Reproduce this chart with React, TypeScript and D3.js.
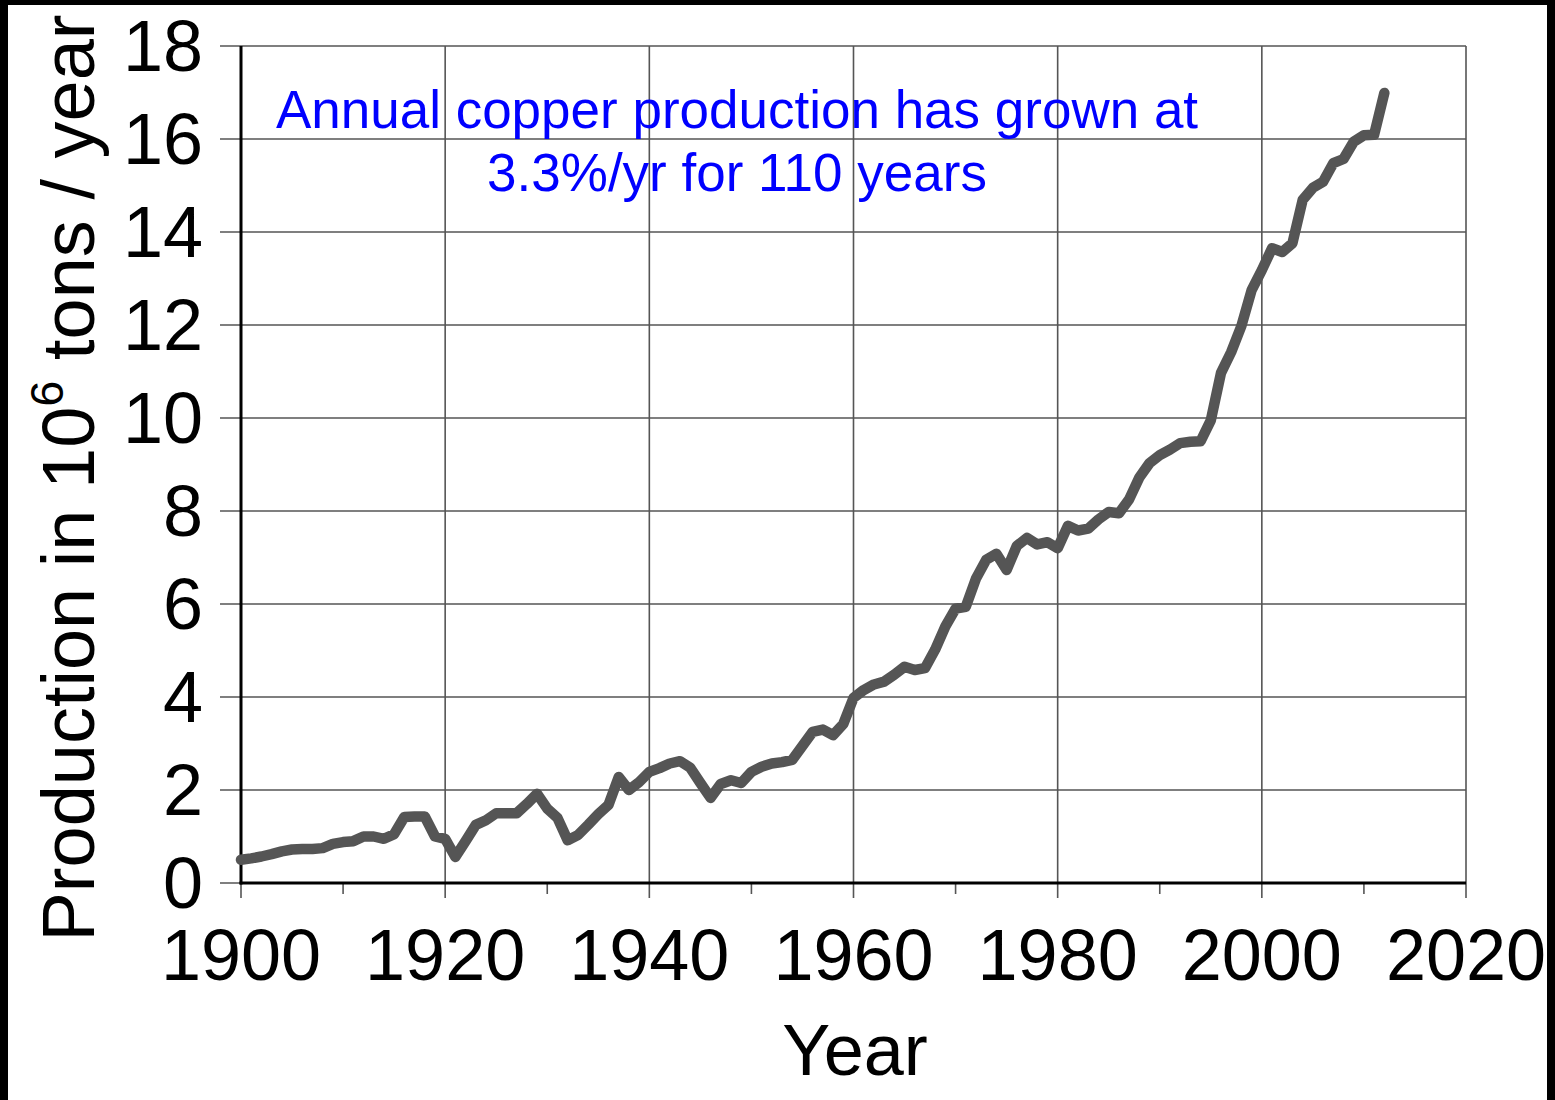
import React from "react";
import * as d3 from "d3";

const years: number[] = d3.range(1900, 2013);
const production: number[] = [
  0.50, 0.53, 0.57, 0.62, 0.68, 0.72, 0.73, 0.73, 0.75, 0.84,
  0.88, 0.90, 1.00, 1.00, 0.95, 1.05, 1.42, 1.43, 1.43, 1.00,
  0.95, 0.56, 0.90, 1.25, 1.35, 1.50, 1.50, 1.50, 1.70, 1.92,
  1.60, 1.40, 0.92, 1.03, 1.25, 1.48, 1.68, 2.28, 2.00, 2.17,
  2.39, 2.47, 2.57, 2.62, 2.48, 2.15, 1.83, 2.13, 2.21, 2.15,
  2.39, 2.50, 2.57, 2.60, 2.65, 2.95, 3.25, 3.30, 3.18, 3.42,
  3.98, 4.15, 4.27, 4.33, 4.48, 4.65, 4.58, 4.62, 5.02, 5.52,
  5.90, 5.94, 6.55, 6.95, 7.08, 6.73, 7.25, 7.42, 7.28, 7.33,
  7.20, 7.68, 7.58, 7.62, 7.82, 7.98, 7.95, 8.25, 8.72, 9.03,
  9.20, 9.32, 9.46, 9.49, 9.50, 9.95, 10.97, 11.42, 11.98, 12.75,
  13.18, 13.65, 13.57, 13.76, 14.69, 14.95, 15.08, 15.48, 15.57, 15.94,
  16.08, 16.09, 16.99,
];
const xTicks: number[] = [1900, 1920, 1940, 1960, 1980, 2000, 2020];
const xMinorTicks: number[] = [1910, 1930, 1950, 1970, 1990, 2010];
const yTicks: number[] = [0, 2, 4, 6, 8, 10, 12, 14, 16, 18];
const annotationLines: string[] = [
  "Annual copper production has grown at",
  "3.3%/yr for 110 years",
];

const W = 1555;
const H = 1100;
const FONT = "'Liberation Sans', Arial, Helvetica, sans-serif";

export default function App() {
  const x = d3.scaleLinear().domain([1900, 2020]).range([241, 1466]);
  const y = d3.scaleLinear().domain([0, 18]).range([883, 46]);
  const data = years.map((yr, i) => ({ yr, v: production[i] }));
  const line = d3
    .line<{ yr: number; v: number }>()
    .x((d) => x(d.yr))
    .y((d) => y(d.v));

  const [x0, x1] = x.range();
  const [y0, y1] = y.range();

  return (
    <svg
      width={W}
      height={H}
      style={{ position: "absolute", left: 0, top: 0, display: "block" }}
      fontFamily={FONT}
    >
      <rect x={0} y={0} width={W} height={H} fill="#000" />
      <rect x={8} y={5} width={1539} height={H - 5} fill="#fff" />

      {/* horizontal gridlines + y ticks */}
      {yTicks.map((t) => (
        <line
          key={"hy" + t}
          x1={x0 - 21}
          x2={x1}
          y1={y(t)}
          y2={y(t)}
          stroke="#555"
          strokeWidth={1.6}
        />
      ))}
      {/* vertical gridlines */}
      {xTicks.map((t) => (
        <line
          key={"vx" + t}
          x1={x(t)}
          x2={x(t)}
          y1={y1}
          y2={y0 + 15}
          stroke="#555"
          strokeWidth={1.6}
        />
      ))}
      {xMinorTicks.map((t) => (
        <line
          key={"mx" + t}
          x1={x(t)}
          x2={x(t)}
          y1={y0}
          y2={y0 + 11}
          stroke="#555"
          strokeWidth={1.6}
        />
      ))}

      {/* axes */}
      <line x1={x0} x2={x0} y1={y1} y2={y0 + 1.5} stroke="#000" strokeWidth={3} />
      <line x1={x0 - 1.5} x2={x1} y1={y0} y2={y0} stroke="#000" strokeWidth={3} />

      {/* data line */}
      <path
        d={line(data) || ""}
        fill="none"
        stroke="#555"
        strokeWidth={10.5}
        strokeLinejoin="round"
        strokeLinecap="round"
      />

      {/* y tick labels */}
      {yTicks.map((t) => (
        <text
          key={"ly" + t}
          x={203}
          y={y(t) + 25}
          textAnchor="end"
          fontSize={72}
          fill="#000"
        >
          {t}
        </text>
      ))}
      {/* x tick labels */}
      {xTicks.map((t) => (
        <text
          key={"lx" + t}
          x={x(t)}
          y={980}
          textAnchor="middle"
          fontSize={72}
          fill="#000"
        >
          {t}
        </text>
      ))}

      {/* axis titles */}
      <text x={855} y={1075} textAnchor="middle" fontSize={72} fill="#000">
        Year
      </text>
      <text
        transform="translate(94,478) rotate(-90)"
        textAnchor="middle"
        fontSize={74}
        fill="#000"
      >
        Production in 10
        <tspan fontSize={47} dy={-31}>
          6
        </tspan>
        <tspan dy={31}> tons / year</tspan>
      </text>

      {/* annotation */}
      {annotationLines.map((s, i) => (
        <text
          key={"an" + i}
          x={737}
          y={128 + i * 63}
          textAnchor="middle"
          fontSize={53}
          fill="#0000ff"
        >
          {s}
        </text>
      ))}
    </svg>
  );
}
